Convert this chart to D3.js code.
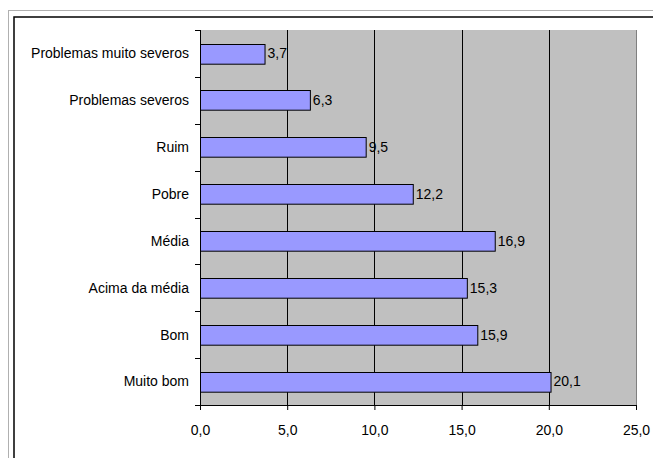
<!DOCTYPE html>
<html>
<head>
<meta charset="utf-8">
<script src="https://cdn.jsdelivr.net/npm/d3@7"></script>
<style>
  html, body { margin: 0; padding: 0; background: #fff; }
  svg { display: block; font-family: "Liberation Sans", Arial, sans-serif; }
</style>
</head>
<body>
<svg id="chart" width="653" height="458"></svg>
<script>
'use strict';

var categories = ['Problemas muito severos', 'Problemas severos', 'Ruim', 'Pobre',
    'Média', 'Acima da média', 'Bom', 'Muito bom'];
var values = [3.7, 6.3, 9.5, 12.2, 16.9, 15.3, 15.9, 20.1];
var xTicks = [0, 5, 10, 15, 20, 25];

var svg = d3.select('#chart'),
    W = 653, H = 458,
    fontSize = 14,
    plot = {left: 200, top: 30, right: 636, bottom: 405};

var fmt = function(v) { return d3.format('.1f')(v).replace('.', ','); };

// outer frames (clipped by the window on the right and bottom)
svg.append('rect')
    .attr('x', 8.5).attr('y', 10.5)
    .attr('width', W).attr('height', H)
    .attr('fill', 'none').attr('stroke', '#b0b0b0');
svg.append('rect')
    .attr('x', 14).attr('y', 17)
    .attr('width', W).attr('height', H)
    .attr('fill', 'none').attr('stroke', '#000').attr('stroke-width', 1.5);

var x = d3.scaleLinear().domain([0, 25]).range([plot.left, plot.right]);
var y = d3.scaleBand().domain(categories).range([plot.top, plot.bottom])
    .paddingInner(0.58).paddingOuter(0.29);
var yb = d3.scaleBand().domain(categories).range([plot.top, plot.bottom]);

svg.append('rect')
    .attr('x', plot.left).attr('y', plot.top)
    .attr('width', plot.right - plot.left).attr('height', plot.bottom - plot.top)
    .attr('fill', '#c0c0c0');

// vertical grid
svg.append('g').selectAll('line')
    .data(xTicks.slice(1, -1))
    .enter().append('line')
        .attr('x1', function(d) { return Math.round(x(d)) + 0.5; })
        .attr('x2', function(d) { return Math.round(x(d)) + 0.5; })
        .attr('y1', plot.top).attr('y2', plot.bottom)
        .attr('stroke', '#000');

svg.append('line')
    .attr('x1', plot.right + 0.5).attr('x2', plot.right + 0.5)
    .attr('y1', plot.top).attr('y2', plot.bottom)
    .attr('stroke', '#808080');

// bars
svg.append('g').selectAll('rect')
    .data(values)
    .enter().append('rect')
        .attr('x', plot.left + 0.5)
        .attr('y', function(d, i) { return Math.round(y(categories[i])) + 0.5; })
        .attr('width', function(d) { return x(d) - plot.left; })
        .attr('height', y.bandwidth())
        .attr('fill', '#9999ff')
        .attr('stroke', '#000');

// value labels
svg.append('g').selectAll('text')
    .data(values)
    .enter().append('text')
        .attr('x', function(d) { return x(d) + 3; })
        .attr('y', function(d, i) { return y(categories[i]) + y.bandwidth() / 2; })
        .attr('dy', '0.35em')
        .attr('font-size', fontSize)
        .text(fmt);

// x axis
var xAxis = svg.append('g')
    .attr('transform', 'translate(0,' + plot.bottom + ')')
    .call(d3.axisBottom(x).tickValues(xTicks).tickFormat(fmt).tickSizeOuter(0).tickSize(5).tickPadding(15));
xAxis.selectAll('text').attr('font-size', fontSize).attr('fill', '#000')
    .attr('font-family', '"Liberation Sans", Arial, sans-serif');
xAxis.selectAll('line, path').attr('stroke', '#000');

// y axis: ticks on category boundaries
var yAxis = svg.append('g').attr('transform', 'translate(' + plot.left + ',0)');
yAxis.append('line')
    .attr('x1', 0.5).attr('x2', 0.5)
    .attr('y1', plot.top).attr('y2', plot.bottom)
    .attr('stroke', '#000');
yAxis.selectAll('line.tick')
    .data(categories.concat(['end']))
    .enter().append('line')
        .attr('class', 'tick')
        .attr('x1', -5).attr('x2', 0)
        .attr('y1', function(d, i) { return Math.round(plot.top + i * yb.step()) + 0.5; })
        .attr('y2', function(d, i) { return Math.round(plot.top + i * yb.step()) + 0.5; })
        .attr('stroke', '#000');
yAxis.selectAll('text')
    .data(categories)
    .enter().append('text')
        .attr('x', -11)
        .attr('y', function(d) { return y(d) + y.bandwidth() / 2; })
        .attr('dy', '0.35em')
        .attr('text-anchor', 'end')
        .attr('font-size', fontSize)
        .text(function(d) { return d; });
</script>
</body>
</html>
